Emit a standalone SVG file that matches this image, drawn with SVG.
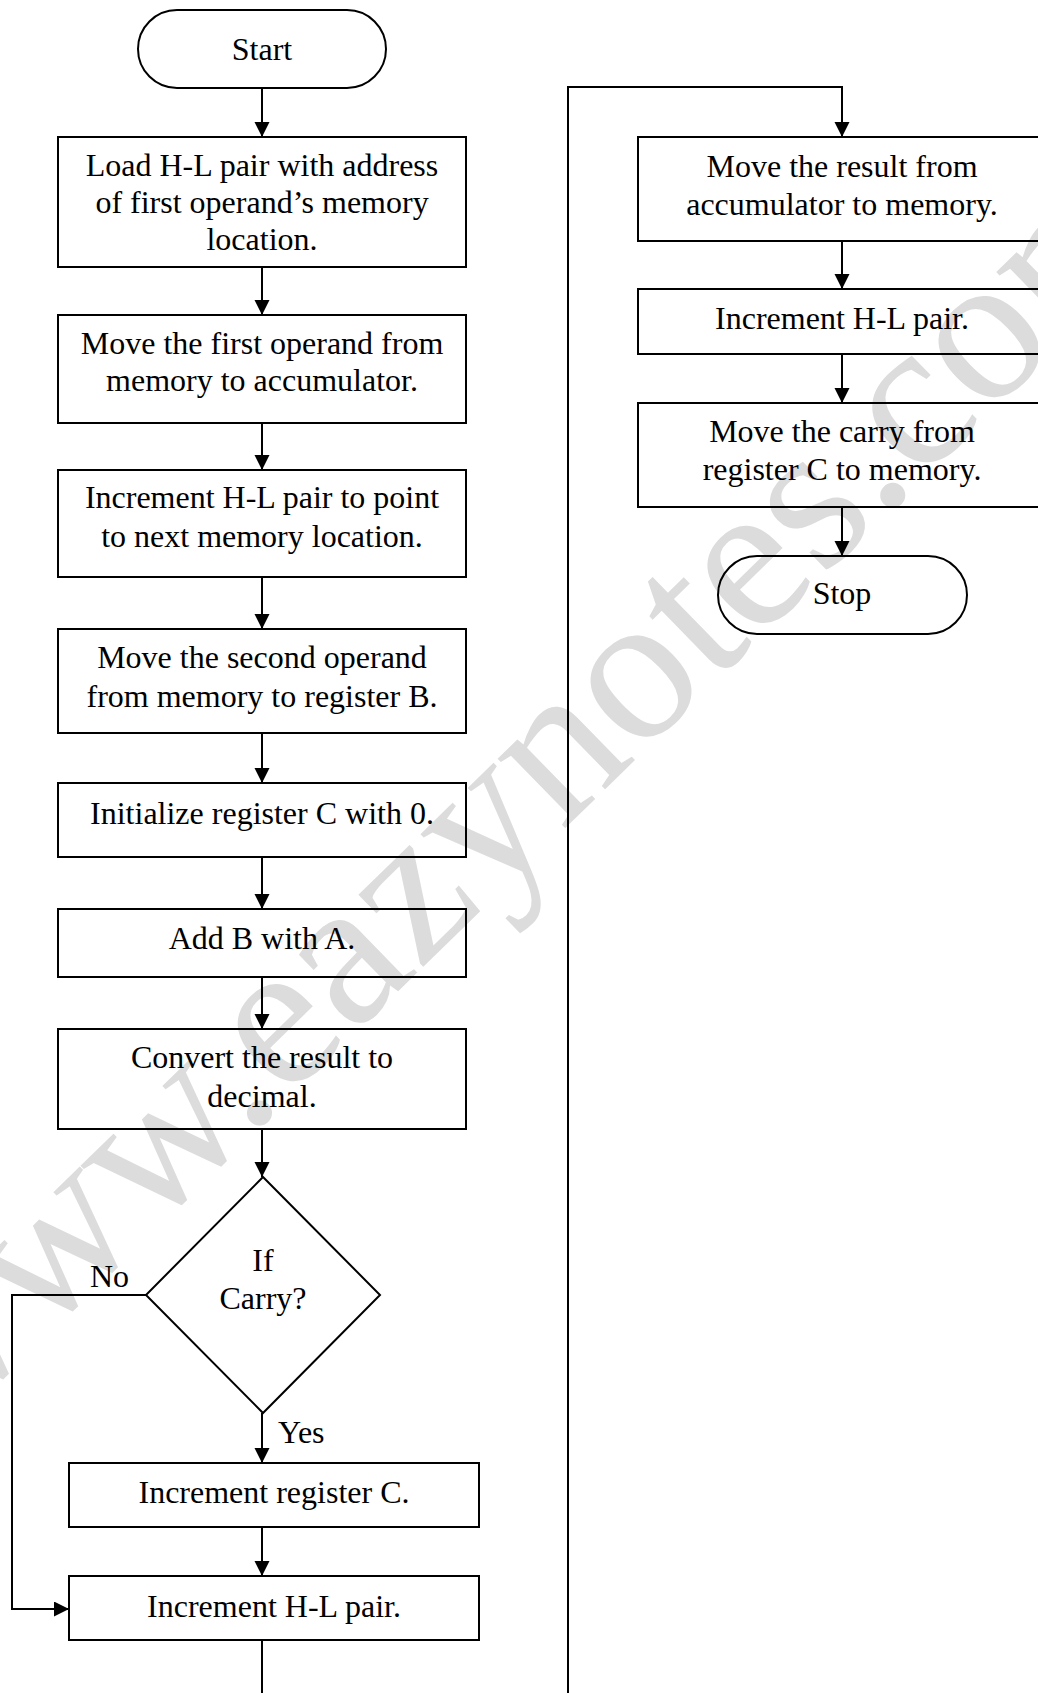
<svg xmlns="http://www.w3.org/2000/svg" width="1038" height="1693" viewBox="0 0 1038 1693">
<style>
.shape{fill:none;stroke:#000;stroke-width:2}
.line{fill:none;stroke:#000;stroke-width:2}
.t{font-family:"Liberation Serif","Times New Roman",serif;font-size:32px;fill:#000;text-anchor:middle}
.lbl{font-family:"Liberation Serif","Times New Roman",serif;font-size:32px;fill:#000}
.wm{font-family:"Liberation Serif","Times New Roman",serif;font-size:211px;fill:#dcdcdc}
</style>
<defs>
<marker id="arr" markerUnits="userSpaceOnUse" markerWidth="16" markerHeight="16" refX="15" refY="7.5" orient="auto">
<path d="M0,0 L15,7.5 L0,15 z" fill="#000"/>
</marker>
</defs>
<rect width="1038" height="1693" fill="#fff"/>
<text class="wm" transform="translate(-70,1448) rotate(-44.3)" x="0" y="0">www.eazynotes.com</text>

<g id="connectors">
<line class="line" x1="262" y1="88" x2="262" y2="137" marker-end="url(#arr)"/>
<line class="line" x1="262" y1="267" x2="262" y2="315" marker-end="url(#arr)"/>
<line class="line" x1="262" y1="423" x2="262" y2="470" marker-end="url(#arr)"/>
<line class="line" x1="262" y1="577" x2="262" y2="629" marker-end="url(#arr)"/>
<line class="line" x1="262" y1="733" x2="262" y2="783" marker-end="url(#arr)"/>
<line class="line" x1="262" y1="857" x2="262" y2="909" marker-end="url(#arr)"/>
<line class="line" x1="262" y1="977" x2="262" y2="1029" marker-end="url(#arr)"/>
<line class="line" x1="262" y1="1129" x2="262" y2="1177" marker-end="url(#arr)"/>
<line class="line" x1="262" y1="1413" x2="262" y2="1463" marker-end="url(#arr)"/>
<line class="line" x1="262" y1="1527" x2="262" y2="1576" marker-end="url(#arr)"/>
<polyline class="line" points="146,1295 12,1295 12,1609 69,1609" marker-end="url(#arr)"/>
<polyline class="line" points="262,1640 262,1693"/>
<polyline class="line" points="568,1693 568,87 842,87 842,137" marker-end="url(#arr)"/>
<line class="line" x1="842" y1="241" x2="842" y2="289" marker-end="url(#arr)"/>
<line class="line" x1="842" y1="354" x2="842" y2="403" marker-end="url(#arr)"/>
<line class="line" x1="842" y1="507" x2="842" y2="556" marker-end="url(#arr)"/>
<text class="lbl" x="90" y="1287">No</text>
<text class="lbl" x="278" y="1443">Yes</text>
</g>

<g id="start">
<rect class="shape" x="138" y="10" width="248" height="78" rx="39" ry="39"/>
<text class="t" x="262" y="60">Start</text>
</g>
<g id="load-hl">
<rect class="shape" x="58" y="137" width="408" height="130"/>
<text class="t" x="262" y="176">Load H-L pair with address</text>
<text class="t" x="262" y="213">of first operand’s memory</text>
<text class="t" x="262" y="250">location.</text>
</g>
<g id="move-first">
<rect class="shape" x="58" y="315" width="408" height="108"/>
<text class="t" x="262" y="354">Move the first operand from</text>
<text class="t" x="262" y="391">memory to accumulator.</text>
</g>
<g id="inc-hl-next">
<rect class="shape" x="58" y="470" width="408" height="107"/>
<text class="t" x="262" y="508">Increment H-L pair to point</text>
<text class="t" x="262" y="547">to next memory location.</text>
</g>
<g id="move-second">
<rect class="shape" x="58" y="629" width="408" height="104"/>
<text class="t" x="262" y="668">Move the second operand</text>
<text class="t" x="262" y="707">from memory to register B.</text>
</g>
<g id="init-c">
<rect class="shape" x="58" y="783" width="408" height="74"/>
<text class="t" x="262" y="824">Initialize register C with 0.</text>
</g>
<g id="add">
<rect class="shape" x="58" y="909" width="408" height="68"/>
<text class="t" x="262" y="949">Add B with A.</text>
</g>
<g id="convert">
<rect class="shape" x="58" y="1029" width="408" height="100"/>
<text class="t" x="262" y="1068">Convert the result to</text>
<text class="t" x="262" y="1107">decimal.</text>
</g>
<g id="if-carry">
<polygon class="shape" points="263,1177 380,1295 263,1413 146,1295"/>
<text class="t" x="263" y="1271">If</text>
<text class="t" x="263" y="1309">Carry?</text>
</g>
<g id="inc-c">
<rect class="shape" x="69" y="1463" width="410" height="64"/>
<text class="t" x="274" y="1503">Increment register C.</text>
</g>
<g id="inc-hl">
<rect class="shape" x="69" y="1576" width="410" height="64"/>
<text class="t" x="274" y="1617">Increment H-L pair.</text>
</g>
<g id="move-result">
<rect class="shape" x="638" y="137" width="408" height="104"/>
<text class="t" x="842" y="177">Move the result from</text>
<text class="t" x="842" y="215">accumulator to memory.</text>
</g>
<g id="inc-hl-2">
<rect class="shape" x="638" y="289" width="408" height="65"/>
<text class="t" x="842" y="329">Increment H-L pair.</text>
</g>
<g id="move-carry">
<rect class="shape" x="638" y="403" width="408" height="104"/>
<text class="t" x="842" y="442">Move the carry from</text>
<text class="t" x="842" y="480">register C to memory.</text>
</g>
<g id="stop">
<rect class="shape" x="718" y="556" width="249" height="78" rx="39" ry="39"/>
<text class="t" x="842" y="604">Stop</text>
</g>
</svg>
